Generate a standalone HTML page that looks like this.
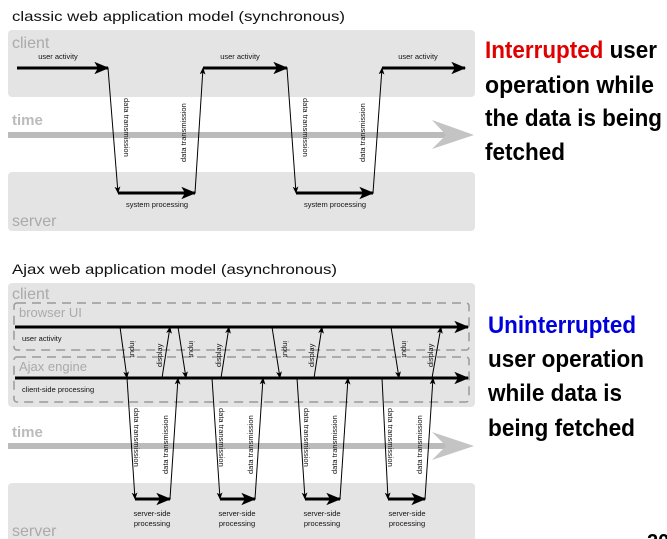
<!DOCTYPE html>
<html><head><meta charset="utf-8"><style>
html,body{margin:0;padding:0;background:#fff;}
svg{display:block;}
.t{font-family:"Liberation Sans",sans-serif;}
.big{font-family:"Liberation Sans",sans-serif;font-weight:bold;font-size:24px;}
</style></head><body>
<svg width="667" height="539" viewBox="0 0 667 539" xmlns="http://www.w3.org/2000/svg">
<defs>
<marker id="a" viewBox="0 0 12 10" refX="11" refY="5" markerWidth="5" markerHeight="5" orient="auto" markerUnits="strokeWidth"><path d="M0,0 L12,5 L0,10 L3,5 z" fill="#000"/></marker>
<marker id="s" viewBox="0 0 12 10" refX="11" refY="5" markerWidth="7" markerHeight="6" orient="auto" markerUnits="strokeWidth"><path d="M0,0 L12,5 L0,10 L3,5 z" fill="#000"/></marker>
</defs>
<!-- classic -->
<text x="12" y="21" class="t" font-size="14" fill="#111" textLength="333" lengthAdjust="spacingAndGlyphs">classic web application model (synchronous)</text>
<rect x="8" y="30" width="467" height="67" rx="4" fill="#e4e4e4"/>
<rect x="8" y="172" width="467" height="59" rx="4" fill="#e4e4e4"/>
<text x="12" y="48" class="t" font-size="16" fill="#aaa">client</text>
<text x="12" y="226" class="t" font-size="16" fill="#aaa">server</text>
<text x="12" y="125" class="t" font-size="15" font-weight="bold" fill="#bbb">time</text>
<rect x="8" y="132" width="440" height="6" fill="#bbb"/>
<path d="M432,120 L474,135 L432,149 L446,135 z" fill="#c4c4c4"/>
<g stroke="#000" fill="none">
<line x1="17" y1="68" x2="108" y2="68" stroke-width="3" marker-end="url(#a)"/>
<line x1="203" y1="68" x2="287" y2="68" stroke-width="3" marker-end="url(#a)"/>
<line x1="382" y1="68" x2="465" y2="68" stroke-width="3" marker-end="url(#a)"/>
<line x1="118" y1="193" x2="195" y2="193" stroke-width="3" marker-end="url(#a)"/>
<line x1="296" y1="193" x2="373" y2="193" stroke-width="3" marker-end="url(#a)"/>
<line x1="108" y1="68" x2="118" y2="193" stroke-width="1" marker-end="url(#s)"/>
<line x1="195" y1="193" x2="203" y2="68" stroke-width="1" marker-end="url(#s)"/>
<line x1="287" y1="68" x2="296" y2="193" stroke-width="1" marker-end="url(#s)"/>
<line x1="373" y1="193" x2="382" y2="68" stroke-width="1" marker-end="url(#s)"/>
</g>
<g class="t" font-size="7.5" fill="#111">
<text x="58" y="59" text-anchor="middle">user activity</text>
<text x="240" y="59" text-anchor="middle">user activity</text>
<text x="418" y="59" text-anchor="middle">user activity</text>
<text x="157" y="207" text-anchor="middle">system processing</text>
<text x="335" y="207" text-anchor="middle">system processing</text>
<text transform="translate(124,98) rotate(90)">data transmission</text>
<text transform="translate(186,162) rotate(-90)">data transmission</text>
<text transform="translate(303,98) rotate(90)">data transmission</text>
<text transform="translate(365,162) rotate(-90)">data transmission</text>
</g>
<!-- ajax -->
<text x="12" y="274" class="t" font-size="14" fill="#111" textLength="325" lengthAdjust="spacingAndGlyphs">Ajax web application model (asynchronous)</text>
<rect x="8" y="283" width="467" height="124" rx="4" fill="#e4e4e4"/>
<rect x="8" y="483" width="467" height="60" rx="4" fill="#e4e4e4"/>
<text x="12" y="299" class="t" font-size="16" fill="#aaa">client</text>
<text x="12" y="536" class="t" font-size="16" fill="#aaa">server</text>
<g fill="none" stroke="#999" stroke-width="1.5" stroke-dasharray="9,6">
<rect x="14" y="303" width="455" height="47" rx="3"/>
<rect x="14" y="357" width="455" height="45" rx="3"/>
</g>
<text x="19" y="317" class="t" font-size="13" fill="#aaa">browser UI</text>
<text x="19" y="371" class="t" font-size="13" fill="#aaa">Ajax engine</text>
<text x="12" y="437" class="t" font-size="15" font-weight="bold" fill="#bbb">time</text>
<rect x="8" y="443" width="440" height="6" fill="#bbb"/>
<path d="M432,432 L474,446 L432,460 L446,446 z" fill="#c4c4c4"/>
<g stroke="#000" fill="none">
<line x1="15" y1="327" x2="468" y2="327" stroke-width="3" marker-end="url(#a)"/>
<line x1="15" y1="378" x2="468" y2="378" stroke-width="3" marker-end="url(#a)"/>
<g stroke-width="3" marker-end="url(#a)">
<line x1="135" y1="499" x2="170" y2="499"/>
<line x1="220" y1="499" x2="255" y2="499"/>
<line x1="305" y1="499" x2="340" y2="499"/>
<line x1="388" y1="499" x2="425" y2="499"/>
</g>
<g stroke-width="1" marker-end="url(#s)">
<line x1="120" y1="327" x2="127" y2="378"/>
<line x1="162" y1="378" x2="170" y2="327"/>
<line x1="178" y1="327" x2="186" y2="378"/>
<line x1="221" y1="378" x2="229" y2="327"/>
<line x1="272" y1="327" x2="280" y2="378"/>
<line x1="314" y1="378" x2="322" y2="327"/>
<line x1="391" y1="327" x2="399" y2="378"/>
<line x1="432" y1="378" x2="441" y2="327"/>
<line x1="127" y1="378" x2="135" y2="499"/>
<line x1="170" y1="499" x2="178" y2="378"/>
<line x1="212" y1="378" x2="220" y2="499"/>
<line x1="255" y1="499" x2="263" y2="378"/>
<line x1="297" y1="378" x2="305" y2="499"/>
<line x1="340" y1="499" x2="348" y2="378"/>
<line x1="382" y1="378" x2="388" y2="499"/>
<line x1="425" y1="499" x2="433" y2="378"/>
</g>
</g>
<g class="t" font-size="7.5" fill="#111">
<text x="22" y="341">user activity</text>
<text x="22" y="392">client-side processing</text>
<text transform="translate(130,341) rotate(90)">input</text>
<text transform="translate(189,341) rotate(90)">input</text>
<text transform="translate(283,341) rotate(90)">input</text>
<text transform="translate(402,341) rotate(90)">input</text>
<text transform="translate(162,367) rotate(-90)">display</text>
<text transform="translate(221,367) rotate(-90)">display</text>
<text transform="translate(314,367) rotate(-90)">display</text>
<text transform="translate(433,367) rotate(-90)">display</text>
<text transform="translate(134,408) rotate(90)">data transmission</text>
<text transform="translate(219,408) rotate(90)">data transmission</text>
<text transform="translate(304,408) rotate(90)">data transmission</text>
<text transform="translate(388,408) rotate(90)">data transmission</text>
<text transform="translate(168,474) rotate(-90)">data transmission</text>
<text transform="translate(253,474) rotate(-90)">data transmission</text>
<text transform="translate(337,474) rotate(-90)">data transmission</text>
<text transform="translate(422,474) rotate(-90)">data transmission</text>
<g text-anchor="middle">
<text x="152" y="516">server-side</text><text x="152" y="526">processing</text>
<text x="237" y="516">server-side</text><text x="237" y="526">processing</text>
<text x="322" y="516">server-side</text><text x="322" y="526">processing</text>
<text x="407" y="516">server-side</text><text x="407" y="526">processing</text>
</g>
</g>
<!-- right text -->
<g class="big" fill="#000">
<text x="485" y="58" textLength="172" lengthAdjust="spacingAndGlyphs"><tspan fill="#e00000">Interrupted</tspan> user</text>
<text x="485" y="93" textLength="169" lengthAdjust="spacingAndGlyphs">operation while</text>
<text x="485" y="126" textLength="177" lengthAdjust="spacingAndGlyphs">the data is being</text>
<text x="485" y="160" textLength="80" lengthAdjust="spacingAndGlyphs">fetched</text>
<text x="488" y="333" fill="#0000dd" textLength="148" lengthAdjust="spacingAndGlyphs">Uninterrupted</text>
<text x="488" y="367" textLength="156" lengthAdjust="spacingAndGlyphs">user operation</text>
<text x="488" y="401" textLength="134" lengthAdjust="spacingAndGlyphs">while data is</text>
<text x="488" y="436" textLength="147" lengthAdjust="spacingAndGlyphs">being fetched</text>
<text x="647" y="548" font-size="20">20</text>
</g>
</svg>
</body></html>
